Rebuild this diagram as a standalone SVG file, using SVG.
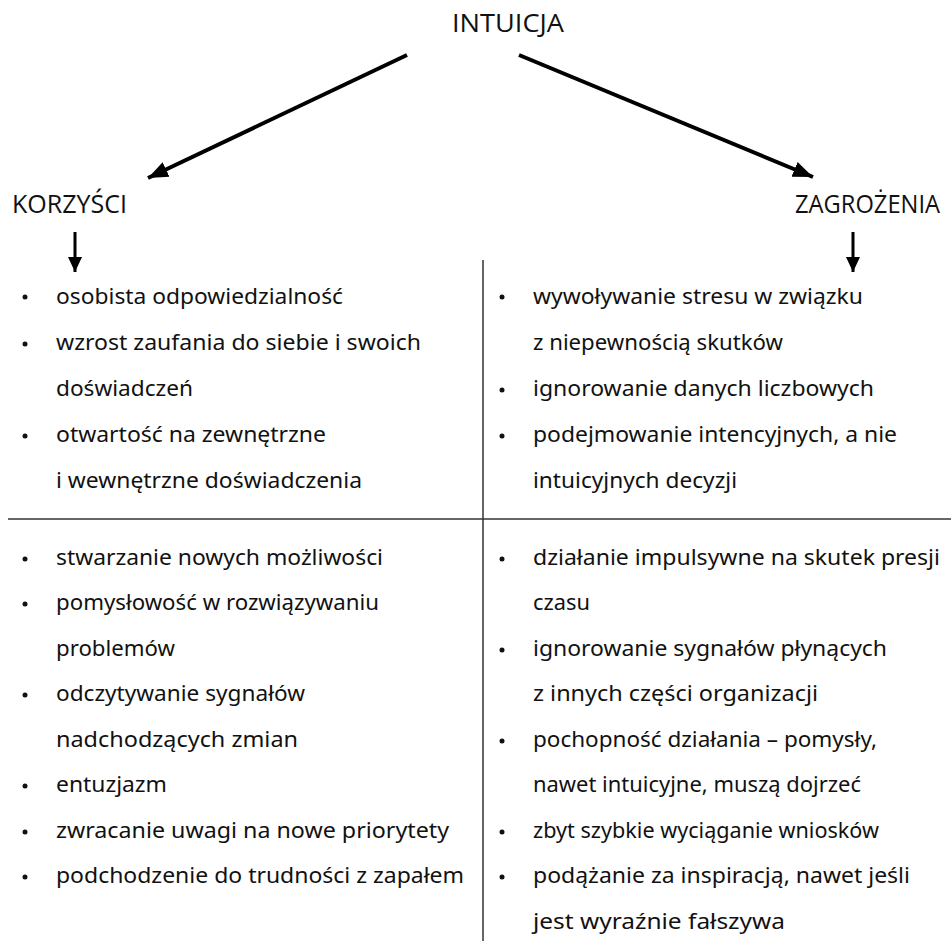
<svg xmlns="http://www.w3.org/2000/svg" width="951" height="941" viewBox="0 0 951 941">
<style>
.h{font-family:"Open Sans","Liberation Sans",sans-serif;font-size:25px;fill:#111}
.t{font-family:"Noto Sans","DejaVu Sans",sans-serif;font-size:21.5px;fill:#111}
.b{fill:#111}
.rule{stroke:#333;stroke-width:1.5;fill:none}
.arr{stroke:#000;fill:none;stroke-linecap:butt}
</style>
<defs>
<marker id="ah" markerUnits="userSpaceOnUse" markerWidth="22" markerHeight="20" viewBox="0 0 22 20" refX="20" refY="10" orient="auto">
<path d="M0,2 L20,10 L0,18 Z" fill="#000"/>
</marker>
<marker id="ahs" markerUnits="userSpaceOnUse" markerWidth="16" markerHeight="14" viewBox="0 0 16 14" refX="15" refY="7" orient="auto">
<path d="M0,0 L15,7 L0,14 Z" fill="#000"/>
</marker>
</defs>
<g id="connectors">
<line class="arr" x1="407" y1="55" x2="148" y2="178" stroke-width="4" marker-end="url(#ah)"/>
<line class="arr" x1="519" y1="55" x2="813" y2="177" stroke-width="4" marker-end="url(#ah)"/>
<line class="arr" x1="75" y1="232" x2="75" y2="272" stroke-width="3" marker-end="url(#ahs)"/>
<line class="arr" x1="853" y1="232" x2="853" y2="272" stroke-width="3" marker-end="url(#ahs)"/>
<line class="rule" x1="483" y1="260" x2="483" y2="941"/>
<line class="rule" x1="8" y1="519" x2="951" y2="519"/>
</g>
<g id="n-intuicja"><text class="h" x="452" y="32" textLength="112" lengthAdjust="spacingAndGlyphs">INTUICJA</text></g>
<g id="n-korzysci"><text class="h" x="12" y="213" textLength="115" lengthAdjust="spacingAndGlyphs">KORZYŚCI</text></g>
<g id="n-zagrozenia"><text class="h" x="795" y="213" textLength="145" lengthAdjust="spacingAndGlyphs">ZAGROŻENIA</text></g>
<g id="n-korzysci-top">
<circle class="b" cx="25" cy="297" r="2.5"/>
<text class="t" x="56" y="304" textLength="287" lengthAdjust="spacingAndGlyphs">osobista odpowiedzialność</text>
<circle class="b" cx="25" cy="344" r="2.5"/>
<text class="t" x="56" y="350" textLength="365" lengthAdjust="spacingAndGlyphs">wzrost zaufania do siebie i swoich</text>
<text class="t" x="56" y="396" textLength="137" lengthAdjust="spacingAndGlyphs">doświadczeń</text>
<circle class="b" cx="25" cy="436" r="2.5"/>
<text class="t" x="56" y="442" textLength="270" lengthAdjust="spacingAndGlyphs">otwartość na zewnętrzne</text>
<text class="t" x="56" y="488" textLength="306" lengthAdjust="spacingAndGlyphs">i wewnętrzne doświadczenia</text>
</g>
<g id="n-zagrozenia-top">
<circle class="b" cx="502" cy="297" r="2.5"/>
<text class="t" x="533" y="304" textLength="330" lengthAdjust="spacingAndGlyphs">wywoływanie stresu w związku</text>
<text class="t" x="533" y="350" textLength="250" lengthAdjust="spacingAndGlyphs">z niepewnością skutków</text>
<circle class="b" cx="502" cy="390" r="2.5"/>
<text class="t" x="533" y="396" textLength="341" lengthAdjust="spacingAndGlyphs">ignorowanie danych liczbowych</text>
<circle class="b" cx="502" cy="436" r="2.5"/>
<text class="t" x="533" y="442" textLength="364" lengthAdjust="spacingAndGlyphs">podejmowanie intencyjnych, a nie</text>
<text class="t" x="533" y="488" textLength="204" lengthAdjust="spacingAndGlyphs">intuicyjnych decyzji</text>
</g>
<g id="n-korzysci-bottom">
<circle class="b" cx="25" cy="559" r="2.5"/>
<text class="t" x="56" y="565" textLength="327" lengthAdjust="spacingAndGlyphs">stwarzanie nowych możliwości</text>
<circle class="b" cx="25" cy="604" r="2.5"/>
<text class="t" x="56" y="610" textLength="323" lengthAdjust="spacingAndGlyphs">pomysłowość w rozwiązywaniu</text>
<text class="t" x="56" y="656" textLength="119" lengthAdjust="spacingAndGlyphs">problemów</text>
<circle class="b" cx="25" cy="695" r="2.5"/>
<text class="t" x="56" y="701" textLength="249" lengthAdjust="spacingAndGlyphs">odczytywanie sygnałów</text>
<text class="t" x="56" y="747" textLength="242" lengthAdjust="spacingAndGlyphs">nadchodzących zmian</text>
<circle class="b" cx="25" cy="786" r="2.5"/>
<text class="t" x="56" y="792" textLength="111" lengthAdjust="spacingAndGlyphs">entuzjazm</text>
<circle class="b" cx="25" cy="832" r="2.5"/>
<text class="t" x="56" y="838" textLength="393" lengthAdjust="spacingAndGlyphs">zwracanie uwagi na nowe priorytety</text>
<circle class="b" cx="25" cy="877" r="2.5"/>
<text class="t" x="56" y="883" textLength="408" lengthAdjust="spacingAndGlyphs">podchodzenie do trudności z zapałem</text>
</g>
<g id="n-zagrozenia-bottom">
<circle class="b" cx="502" cy="559" r="2.5"/>
<text class="t" x="533" y="565" textLength="407" lengthAdjust="spacingAndGlyphs">działanie impulsywne na skutek presji</text>
<text class="t" x="533" y="610" textLength="57" lengthAdjust="spacingAndGlyphs">czasu</text>
<circle class="b" cx="502" cy="650" r="2.5"/>
<text class="t" x="533" y="656" textLength="354" lengthAdjust="spacingAndGlyphs">ignorowanie sygnałów płynących</text>
<text class="t" x="533" y="701" textLength="285" lengthAdjust="spacingAndGlyphs">z innych części organizacji</text>
<circle class="b" cx="502" cy="741" r="2.5"/>
<text class="t" x="533" y="747" textLength="344" lengthAdjust="spacingAndGlyphs">pochopność działania – pomysły,</text>
<text class="t" x="533" y="792" textLength="328" lengthAdjust="spacingAndGlyphs">nawet intuicyjne, muszą dojrzeć</text>
<circle class="b" cx="502" cy="832" r="2.5"/>
<text class="t" x="533" y="838" textLength="346" lengthAdjust="spacingAndGlyphs">zbyt szybkie wyciąganie wniosków</text>
<circle class="b" cx="502" cy="877" r="2.5"/>
<text class="t" x="533" y="883" textLength="377" lengthAdjust="spacingAndGlyphs">podążanie za inspiracją, nawet jeśli</text>
<text class="t" x="533" y="929" textLength="252" lengthAdjust="spacingAndGlyphs">jest wyraźnie fałszywa</text>
</g>
</svg>
